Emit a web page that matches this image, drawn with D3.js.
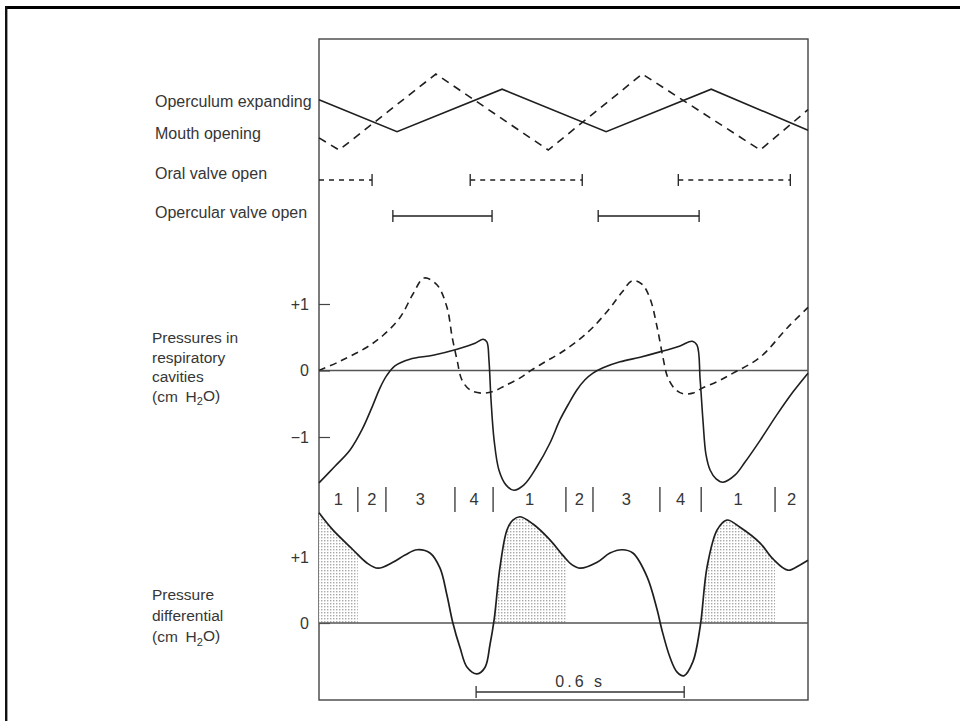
<!DOCTYPE html>
<html>
<head>
<meta charset="utf-8">
<script src="https://cdn.jsdelivr.net/npm/d3@7"></script>
<style>
  body { margin: 0; background: #fff; }
  svg { display: block; font-family: 'Liberation Sans', Arial, sans-serif; }
</style>
</head>
<body>
<div id="chart-container"></div>
<script>
// time runs along x, in seconds
const timeDomain = [0, 1.41];

// top panel: opening movements (relative level 0..1) and valve timing
const operculumExpanding = [[0, 0.66], [0.225, 0.24], [0.528, 0.8], [0.828, 0.24], [1.131, 0.8], [1.41, 0.26]];
const mouthOpening = [[0, 0.16], [0.058, 0], [0.337, 1], [0.661, 0], [0.932, 1], [1.272, 0], [1.41, 0.53]];
const oralValveOpen = [[0, 0.153], [0.436, 0.759], [1.036, 1.359]];
const opercularValveOpen = [[0.213, 0.499], [0.805, 1.096]];
const movementLabels = ['Operculum expanding', 'Mouth opening', 'Oral valve open', 'Opercular valve open'];

// middle panel: pressures in the cavities (cm H2O)
const opercularPressure = [
  [0, -1.69], [0.046, -1.44], [0.089, -1.2], [0.124, -0.89], [0.153, -0.55], [0.176, -0.26],
  [0.196, -0.07], [0.219, 0.07], [0.262, 0.17], [0.329, 0.23], [0.398, 0.32], [0.45, 0.41],
  [0.473, 0.47], [0.484, 0.43], [0.49, 0.16], [0.496, -0.44], [0.505, -1.05], [0.519, -1.5],
  [0.539, -1.72], [0.562, -1.8], [0.591, -1.72], [0.629, -1.44], [0.666, -1.09], [0.695, -0.74],
  [0.721, -0.49], [0.744, -0.29], [0.767, -0.14], [0.79, -0.04], [0.819, 0.04], [0.868, 0.13],
  [0.926, 0.2], [0.983, 0.28], [1.041, 0.37], [1.076, 0.44], [1.09, 0.38], [1.099, -0.14],
  [1.107, -0.74], [1.116, -1.27], [1.128, -1.5], [1.145, -1.63], [1.165, -1.68], [1.2, -1.57],
  [1.228, -1.38], [1.272, -1.05], [1.321, -0.66], [1.367, -0.32], [1.41, -0.04]
];
const buccalPressure = [
  [0, 0], [0.061, 0.14], [0.138, 0.35], [0.185, 0.53], [0.234, 0.8], [0.271, 1.15],
  [0.303, 1.39], [0.34, 1.29], [0.369, 0.95], [0.384, 0.5], [0.398, 0.16], [0.412, -0.14],
  [0.435, -0.29], [0.467, -0.34], [0.499, -0.32], [0.536, -0.23], [0.58, -0.11], [0.608, -0.01],
  [0.652, 0.13], [0.695, 0.26], [0.744, 0.44], [0.79, 0.65], [0.839, 0.94], [0.874, 1.18],
  [0.903, 1.35], [0.931, 1.3], [0.954, 1.09], [0.975, 0.65], [0.992, 0.19], [1.006, -0.11],
  [1.027, -0.28], [1.05, -0.35], [1.078, -0.34], [1.107, -0.26], [1.151, -0.16], [1.194, -0.04],
  [1.272, 0.2], [1.35, 0.64], [1.41, 0.95]
];
const pressureTicks = [-1, 0, 1];
const pressureLabel = ['Pressures in', 'respiratory', 'cavities'];

// phases of the cycle
const phaseBounds = [0, 0.112, 0.193, 0.392, 0.502, 0.712, 0.79, 0.983, 1.102, 1.315, 1.41];
const phaseLabels = ['1', '2', '3', '4', '1', '2', '3', '4', '1', '2'];

// bottom panel: pressure differential (cm H2O)
const pressureDifferential = [
  [0, 1.67], [0.04, 1.41], [0.098, 1.11], [0.138, 0.91], [0.17, 0.83], [0.213, 0.92],
  [0.248, 1.03], [0.283, 1.11], [0.32, 1.06], [0.349, 0.83], [0.369, 0.42], [0.386, 0],
  [0.407, -0.38], [0.427, -0.67], [0.456, -0.77], [0.479, -0.67], [0.493, -0.33], [0.505, 0.05],
  [0.522, 0.85], [0.542, 1.41], [0.559, 1.56], [0.58, 1.61], [0.617, 1.5], [0.666, 1.26],
  [0.704, 1.02], [0.73, 0.88], [0.753, 0.83], [0.802, 0.92], [0.839, 1.06], [0.874, 1.11],
  [0.905, 1.06], [0.946, 0.7], [0.975, 0.2], [0.989, -0.11], [1.012, -0.52], [1.032, -0.74],
  [1.052, -0.8], [1.078, -0.59], [1.099, -0.06], [1.119, 0.85], [1.148, 1.41], [1.176, 1.56],
  [1.214, 1.45], [1.272, 1.21], [1.309, 0.97], [1.352, 0.8], [1.387, 0.88], [1.41, 0.95]
];
const differentialTicks = [0, 1];
const differentialLabel = ['Pressure', 'differential'];

const scaleBarStart = 0.453;
const scaleBarLength = 0.6;
const scaleBarLabel = '0.6 s';

const ink = '#1f1f1f';
const textInk = '#363636';

const width = 960;
const height = 721;
const boxTop = 39;
const boxBottom = 700;

const x = d3.scaleLinear().domain(timeDomain).range([319, 808]);
const yMove = d3.scaleLinear().domain([0, 1]).range([150, 74]);
const yPress = d3.scaleLinear().domain([-1, 1]).range([437, 304]);
const yDiff = d3.scaleLinear().domain([0, 1]).range([623, 557]);

const smooth = d3.curveCatmullRom.alpha(0.5);

const svg = d3.select('#chart-container')
  .append('svg')
  .attr('width', width)
  .attr('height', height);

// stipple used for the shaded phase-1 areas
const pattern = svg.append('defs').append('pattern')
  .attr('id', 'stipple')
  .attr('width', 3)
  .attr('height', 3)
  .attr('patternUnits', 'userSpaceOnUse');
pattern.append('rect').attr('width', 3).attr('height', 3).attr('fill', '#fff');
pattern.append('rect').attr('width', 1.4).attr('height', 1.4).attr('fill', '#a8a8a8');

// outer frame (top and left only)
svg.append('line').attr('x1', 5).attr('x2', width).attr('y1', 7.5).attr('y2', 7.5)
  .attr('stroke', '#000').attr('stroke-width', 3);
svg.append('line').attr('x1', 6.2).attr('x2', 6.2).attr('y1', 6).attr('y2', height)
  .attr('stroke', '#111').attr('stroke-width', 2.4);

// plot box
svg.append('rect')
  .attr('x', x(timeDomain[0]))
  .attr('y', boxTop)
  .attr('width', x(timeDomain[1]) - x(timeDomain[0]))
  .attr('height', boxBottom - boxTop)
  .attr('fill', 'none')
  .attr('stroke', '#444')
  .attr('stroke-width', 1.4);

// ---- top panel ----
const moveLine = d3.line().x((d) => x(d[0])).y((d) => yMove(d[1]));
svg.append('path').attr('d', moveLine(operculumExpanding))
  .attr('fill', 'none').attr('stroke', ink).attr('stroke-width', 1.6);
svg.append('path').attr('d', moveLine(mouthOpening))
  .attr('fill', 'none').attr('stroke', ink).attr('stroke-width', 1.6)
  .attr('stroke-dasharray', '8 6');

function valveBars(intervals, yPos, dashed) {
  const g = svg.append('g').attr('stroke', ink).attr('stroke-width', 1.3);
  intervals.forEach(([t0, t1]) => {
    g.append('line').attr('x1', x(t0)).attr('x2', x(t1)).attr('y1', yPos).attr('y2', yPos)
      .attr('stroke-dasharray', dashed ? '5 5' : null);
    [t0, t1].forEach((t) => {
      if (t === timeDomain[0]) return;
      g.append('line').attr('x1', x(t)).attr('x2', x(t))
        .attr('y1', yPos - 6).attr('y2', yPos + 6);
    });
  });
}
valveBars(oralValveOpen, 180, true);
valveBars(opercularValveOpen, 216, false);

const labelY = [101, 133, 173, 212];
svg.append('g')
  .attr('fill', textInk)
  .attr('font-size', 16)
  .selectAll('text')
  .data(movementLabels)
  .join('text')
  .attr('x', 155)
  .attr('y', (d, i) => labelY[i])
  .attr('dy', '0.35em')
  .text((d) => d);

// ---- middle panel ----
svg.append('line').attr('x1', x(timeDomain[0])).attr('x2', x(timeDomain[1]))
  .attr('y1', yPress(0)).attr('y2', yPress(0))
  .attr('stroke', '#555').attr('stroke-width', 1.3);

const pressLine = d3.line().x((d) => x(d[0])).y((d) => yPress(d[1])).curve(smooth);
svg.append('path').attr('d', pressLine(buccalPressure))
  .attr('fill', 'none').attr('stroke', ink).attr('stroke-width', 1.6)
  .attr('stroke-dasharray', '7 5');
svg.append('path').attr('d', pressLine(opercularPressure))
  .attr('fill', 'none').attr('stroke', ink).attr('stroke-width', 1.6);

const tickText = (d) => (d > 0 ? '+' + d : d < 0 ? '\u2212' + Math.abs(d) : String(d));

const pressAxis = svg.append('g')
  .attr('transform', `translate(${x(timeDomain[0])},0)`)
  .call(d3.axisLeft(yPress).tickValues(pressureTicks).tickSize(-11).tickPadding(10).tickFormat(tickText));

const diffAxis = svg.append('g')
  .attr('transform', `translate(${x(timeDomain[0])},0)`)
  .call(d3.axisLeft(yDiff).tickValues(differentialTicks).tickSize(-11).tickPadding(10).tickFormat(tickText));

[pressAxis, diffAxis].forEach((a) => {
  a.select('.domain').remove();
  a.selectAll('line').attr('stroke', '#444').attr('stroke-width', 1.2);
  a.selectAll('text').attr('font-size', 16).attr('fill', textInk)
    .attr('font-family', "'Liberation Sans', Arial, sans-serif");
});

function unitLabel(lines, startY, step) {
  const g = svg.append('g').attr('fill', textInk).attr('font-size', 15.5);
  lines.forEach((line, i) => {
    g.append('text').attr('x', 152).attr('y', startY + i * step).attr('dy', '0.35em').text(line);
  });
  const unit = g.append('text').attr('x', 152).attr('y', startY + lines.length * step).attr('dy', '0.35em');
  unit.append('tspan').text('(cm\u2002H');
  unit.append('tspan').attr('font-size', 11).attr('dy', '0.3em').text('2');
  unit.append('tspan').attr('dy', '-0.3em').text('O)');
}
unitLabel(pressureLabel, 338, 19.5);
unitLabel(differentialLabel, 595, 21);

// ---- phase strip ----
svg.append('g')
  .attr('stroke', '#333').attr('stroke-width', 1.3)
  .selectAll('line')
  .data(phaseBounds.slice(1, -1))
  .join('line')
  .attr('x1', (d) => x(d)).attr('x2', (d) => x(d))
  .attr('y1', 487).attr('y2', 512);

svg.append('g')
  .attr('fill', textInk).attr('font-size', 16.5).attr('text-anchor', 'middle')
  .selectAll('text')
  .data(phaseLabels)
  .join('text')
  .attr('x', (d, i) => x((phaseBounds[i] + phaseBounds[i + 1]) / 2))
  .attr('y', 499)
  .attr('dy', '0.35em')
  .text((d) => d);

// ---- bottom panel ----
const shadeIntervals = phaseLabels
  .map((d, i) => [d, phaseBounds[i], phaseBounds[i + 1]])
  .filter((d) => d[0] === '1');

const clip = svg.select('defs').append('clipPath').attr('id', 'phase1');
shadeIntervals.forEach(([, t0, t1]) => {
  clip.append('rect').attr('x', x(t0)).attr('width', x(t1) - x(t0))
    .attr('y', boxTop).attr('height', yDiff(0) - boxTop);
});

const diffArea = d3.area().x((d) => x(d[0])).y0(yDiff(0)).y1((d) => yDiff(d[1])).curve(smooth);
svg.append('path').attr('d', diffArea(pressureDifferential))
  .attr('fill', 'url(#stipple)').attr('clip-path', 'url(#phase1)');

svg.append('line').attr('x1', x(timeDomain[0])).attr('x2', x(timeDomain[1]))
  .attr('y1', yDiff(0)).attr('y2', yDiff(0))
  .attr('stroke', '#555').attr('stroke-width', 1.3);

const diffLine = d3.line().x((d) => x(d[0])).y((d) => yDiff(d[1])).curve(smooth);
svg.append('path').attr('d', diffLine(pressureDifferential))
  .attr('fill', 'none').attr('stroke', ink).attr('stroke-width', 1.7);

// time scale bar
const sb = svg.append('g').attr('stroke', '#333').attr('stroke-width', 1.3);
const sbY = 692;
sb.append('line').attr('x1', x(scaleBarStart)).attr('x2', x(scaleBarStart + scaleBarLength))
  .attr('y1', sbY).attr('y2', sbY);
[scaleBarStart, scaleBarStart + scaleBarLength].forEach((t) => {
  sb.append('line').attr('x1', x(t)).attr('x2', x(t)).attr('y1', sbY - 6).attr('y2', sbY + 6);
});
svg.append('text')
  .attr('x', x(scaleBarStart + scaleBarLength / 2))
  .attr('y', 681)
  .attr('dy', '0.35em')
  .attr('text-anchor', 'middle')
  .attr('font-size', 16)
  .attr('letter-spacing', 3)
  .attr('fill', textInk)
  .text(scaleBarLabel);
</script>
</body>
</html>
